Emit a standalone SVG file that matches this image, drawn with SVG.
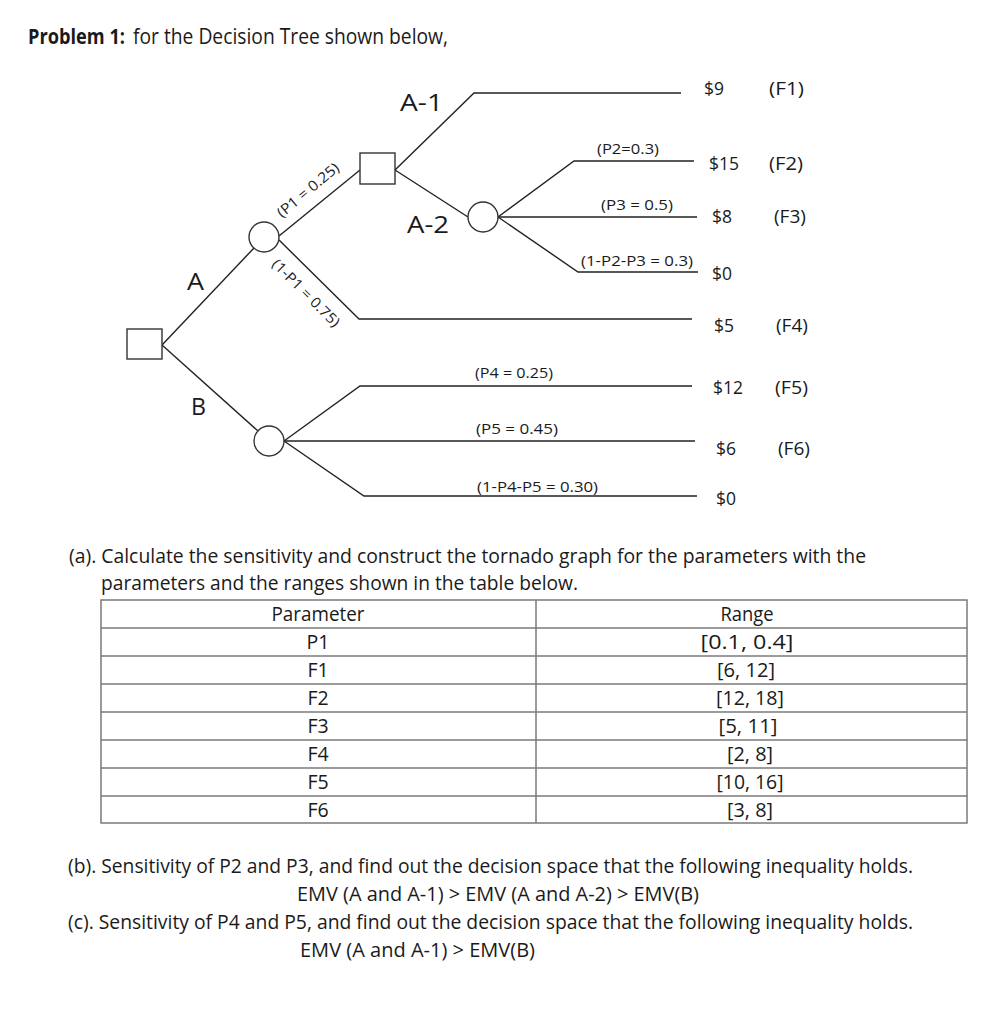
<svg xmlns="http://www.w3.org/2000/svg" width="1008" height="1018" viewBox="0 0 1008 1018">
<style>
text { font-family: "Open Sans", "Liberation Sans", sans-serif; fill: #1a1a1a; }
.title { font-size: 21px; }
.bold { font-weight: bold; }
.body { font-size: 19.5px; }
.cell { font-size: 19.5px; text-anchor: middle; }
.pay { font-size: 17.5px; }
.prob { font-size: 14.5px; }
.branch { font-size: 24px; }
.conn { fill: none; stroke: #222; stroke-width: 1.4; }
.node { fill: #fff; stroke: #333; stroke-width: 1.4; }
.grid { fill: none; stroke: #7a7a7a; stroke-width: 1.5; }
</style>
<rect width="1008" height="1018" fill="#fff"/>

<text class="title bold" x="28" y="44" textLength="97" lengthAdjust="spacingAndGlyphs">Problem 1:</text>
<text class="title" x="133" y="44" textLength="315" lengthAdjust="spacingAndGlyphs">for the Decision Tree shown below,</text>

<g id="connectors">
  <polyline class="conn" points="162,345 258,431"/>
  <polyline class="conn" points="162,345 254,248"/>
  <polyline class="conn" points="279,236 360,170"/>
  <polyline class="conn" points="279,240 359,319 692,319"/>
  <polyline class="conn" points="395,170 474,93 681,93"/>
  <polyline class="conn" points="395,170 468,217"/>
  <polyline class="conn" points="498,217 574,161 694,161"/>
  <polyline class="conn" points="498,217 697,217"/>
  <polyline class="conn" points="498,217 578,272 698,272"/>
  <polyline class="conn" points="284,441 360,386 692,386"/>
  <polyline class="conn" points="284,441 695,441"/>
  <polyline class="conn" points="284,441 364,496 697,496"/>
</g>

<g id="root-decision">
  <rect class="node" x="127" y="329" width="35" height="30"/>
</g>
<g id="chance-P1">
  <circle class="node" cx="264" cy="237" r="15"/>
</g>
<g id="decision-A">
  <rect class="node" x="360" y="153" width="35" height="31"/>
</g>
<g id="chance-A2">
  <circle class="node" cx="483" cy="217" r="15"/>
</g>
<g id="chance-B">
  <circle class="node" cx="269" cy="441" r="15"/>
</g>

<g id="branch-labels">
  <text class="branch" x="187" y="290" textLength="17" lengthAdjust="spacingAndGlyphs">A</text>
  <text class="branch" x="191" y="415" textLength="15" lengthAdjust="spacingAndGlyphs">B</text>
  <text class="branch" x="400" y="111" textLength="43" lengthAdjust="spacingAndGlyphs">A-1</text>
  <text class="branch" x="407" y="233" textLength="42" lengthAdjust="spacingAndGlyphs">A-2</text>
  <text class="prob" transform="translate(308,190) rotate(-40)" x="0" y="5" text-anchor="middle" textLength="76" lengthAdjust="spacingAndGlyphs">(P1 = 0.25)</text>
  <text class="prob" transform="translate(306,293) rotate(45)" x="0" y="5" text-anchor="middle" textLength="89" lengthAdjust="spacingAndGlyphs">(1-P1 = 0.75)</text>
</g>

<g id="prob-labels">
  <text class="prob" x="597" y="154" textLength="62" lengthAdjust="spacingAndGlyphs">(P2=0.3)</text>
  <text class="prob" x="601" y="210" textLength="72" lengthAdjust="spacingAndGlyphs">(P3 = 0.5)</text>
  <text class="prob" x="581" y="266" textLength="112" lengthAdjust="spacingAndGlyphs">(1-P2-P3 = 0.3)</text>
  <text class="prob" x="475" y="378" textLength="78" lengthAdjust="spacingAndGlyphs">(P4 = 0.25)</text>
  <text class="prob" x="476" y="434" textLength="82" lengthAdjust="spacingAndGlyphs">(P5 = 0.45)</text>
  <text class="prob" x="477" y="492" textLength="121" lengthAdjust="spacingAndGlyphs">(1-P4-P5 = 0.30)</text>
</g>

<g id="payoffs">
  <text class="pay" x="704" y="95">$9</text>
  <text class="pay" x="769" y="95" textLength="35" lengthAdjust="spacingAndGlyphs">(F1)</text>
  <text class="pay" x="709" y="170">$15</text>
  <text class="pay" x="769" y="170" textLength="34" lengthAdjust="spacingAndGlyphs">(F2)</text>
  <text class="pay" x="712" y="223">$8</text>
  <text class="pay" x="774" y="223" textLength="32" lengthAdjust="spacingAndGlyphs">(F3)</text>
  <text class="pay" x="712" y="280">$0</text>
  <text class="pay" x="714" y="332">$5</text>
  <text class="pay" x="776" y="332" textLength="32" lengthAdjust="spacingAndGlyphs">(F4)</text>
  <text class="pay" x="713" y="394">$12</text>
  <text class="pay" x="775" y="394" textLength="33" lengthAdjust="spacingAndGlyphs">(F5)</text>
  <text class="pay" x="716" y="455">$6</text>
  <text class="pay" x="778" y="455" textLength="32" lengthAdjust="spacingAndGlyphs">(F6)</text>
  <text class="pay" x="716" y="505">$0</text>
</g>

<text class="body" x="69" y="563" textLength="797" lengthAdjust="spacingAndGlyphs">(a). Calculate the sensitivity and construct the tornado graph for the parameters with the</text>
<text class="body" x="101" y="590" textLength="477" lengthAdjust="spacingAndGlyphs">parameters and the ranges shown in the table below.</text>

<g id="table">
  <rect class="grid" x="101" y="600" width="866" height="223"/>
  <line class="grid" x1="101" y1="628" x2="967" y2="628"/>
  <line class="grid" x1="101" y1="656" x2="967" y2="656"/>
  <line class="grid" x1="101" y1="684" x2="967" y2="684"/>
  <line class="grid" x1="101" y1="712" x2="967" y2="712"/>
  <line class="grid" x1="101" y1="740" x2="967" y2="740"/>
  <line class="grid" x1="101" y1="768" x2="967" y2="768"/>
  <line class="grid" x1="101" y1="796" x2="967" y2="796"/>
  <line class="grid" x1="536" y1="600" x2="536" y2="823"/>
  <text class="cell" x="318" y="621" textLength="93" lengthAdjust="spacingAndGlyphs">Parameter</text>
  <text class="cell" x="318" y="649">P1</text>
  <text class="cell" x="318" y="677">F1</text>
  <text class="cell" x="318" y="705">F2</text>
  <text class="cell" x="318" y="733">F3</text>
  <text class="cell" x="318" y="761">F4</text>
  <text class="cell" x="318" y="789">F5</text>
  <text class="cell" x="318" y="817">F6</text>
  <text class="cell" x="747" y="621" textLength="53" lengthAdjust="spacingAndGlyphs">Range</text>
  <text class="cell" x="747" y="649" textLength="93" lengthAdjust="spacingAndGlyphs">[0.1, 0.4]</text>
  <text class="cell" x="746" y="677" textLength="58" lengthAdjust="spacingAndGlyphs">[6, 12]</text>
  <text class="cell" x="750" y="705" textLength="68" lengthAdjust="spacingAndGlyphs">[12, 18]</text>
  <text class="cell" x="748" y="733" textLength="59" lengthAdjust="spacingAndGlyphs">[5, 11]</text>
  <text class="cell" x="750" y="761" textLength="46" lengthAdjust="spacingAndGlyphs">[2, 8]</text>
  <text class="cell" x="750" y="789" textLength="67" lengthAdjust="spacingAndGlyphs">[10, 16]</text>
  <text class="cell" x="750" y="817" textLength="46" lengthAdjust="spacingAndGlyphs">[3, 8]</text>
</g>

<text class="body" x="68" y="873" textLength="845" lengthAdjust="spacingAndGlyphs">(b). Sensitivity of P2 and P3, and find out the decision space that the following inequality holds.</text>
<text class="body" x="297" y="901" textLength="402" lengthAdjust="spacingAndGlyphs">EMV (A and A-1) &gt; EMV (A and A-2) &gt; EMV(B)</text>
<text class="body" x="68" y="929" textLength="845" lengthAdjust="spacingAndGlyphs">(c). Sensitivity of P4 and P5, and find out the decision space that the following inequality holds.</text>
<text class="body" x="300" y="957" textLength="235" lengthAdjust="spacingAndGlyphs">EMV (A and A-1) &gt; EMV(B)</text>
</svg>
